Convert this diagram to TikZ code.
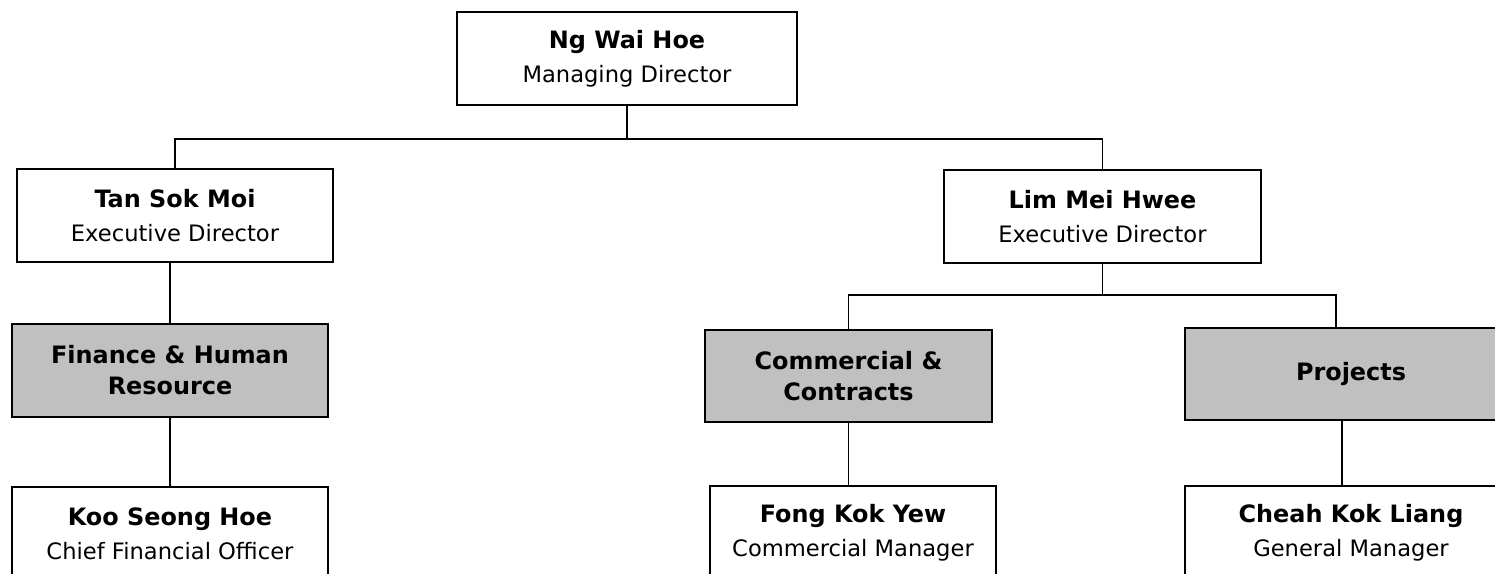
\documentclass[tikz,border=0pt]{standalone}
\usepackage{fontspec}
\setmainfont{DejaVu Sans}
\definecolor{deptgray}{RGB}{192,192,192}
\begin{document}
\begin{tikzpicture}[x=1bp,y=-1bp,line width=1.6bp,
  person/.style={draw,fill=white,minimum width=316bp,minimum height=93bp,align=center,inner sep=0pt,
    font=\fontsize{22.7}{34}\selectfont},
  dept/.style={person,fill=deptgray,font=\bfseries\fontsize{24}{31}\selectfont}]
%%
\newcommand{\who}[5][316]{\node[person,minimum width=#1bp] (#2) at (#3) {{\bfseries\fontsize{24}{34}\selectfont #4}\\#5};}
%%
\useasboundingbox (0,0) rectangle (1495,574);
\clip (0,0) rectangle (1495,574);
%
  \who[340]{md}{627,58.5}{Ng Wai Hoe}{Managing Director}
  \who{tan}{175,215.5}{Tan Sok Moi}{Executive Director}
  \who[317]{lim}{1102.5,216.5}{Lim Mei Hwee}{Executive Director}
  \node[dept] (fin) at (170,370.5) {Finance \& Human\\Resource};
  \node[dept,minimum width=287bp,minimum height=92bp] (com) at (848.5,376) {Commercial \&\\Contracts};
  \node[dept,minimum width=332bp,minimum height=92bp] (proj) at (1351,374) {Projects};
  \who{koo}{170,533.5}{Koo Seong Hoe}{Chief Financial Officer}
  \who[286]{fong}{853,532.5}{Fong Kok Yew}{Commercial Manager}
  \who[332]{cheah}{1351,532.5}{Cheah Kok Liang}{General Manager}
%
\draw (md.south) -- ++(0,33) coordinate (bustop);
\draw (tan.north) |- (bustop) -| (lim.north);
\draw (fin.north) -- (fin.north |- tan.south);
\draw (lim.south) -- ++(0,31) coordinate (buslim);
\draw (com.north) |- (buslim) -| ([xshift=-15bp]proj.north);
\draw (fin.south) -- (fin.south |- koo.north);
\draw (com.south) -- (com.south |- fong.north);
\draw ([xshift=-9bp]proj.south) -- ([xshift=-9bp]cheah.north);
\end{tikzpicture}
\end{document}
